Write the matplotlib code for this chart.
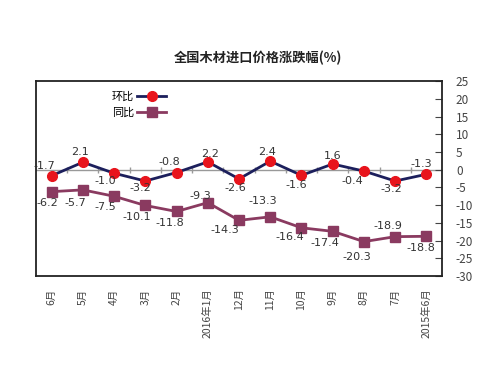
import matplotlib
matplotlib.use("Agg")
import matplotlib.pyplot as plt

plt.rcParams['font.family'] = ['Noto Sans CJK SC', 'DejaVu Sans']

title = "全国木材进口价格涨跌幅(%)"
months = ["2015年6月", "7月", "8月", "9月", "10月", "11月", "12月",
          "2016年1月", "2月", "3月", "4月", "5月", "6月"]
mom = [-1.3, -3.2, -0.4, 1.6, -1.6, 2.4, -2.6, 2.2, -0.8, -3.2, -1.0, 2.1, -1.7]
yoy = [-18.8, -18.9, -20.3, -17.4, -16.4, -13.3, -14.3, -9.3, -11.8, -10.1, -7.5, -5.7, -6.2]
mom_name = "环比"
yoy_name = "同比"
yticks = [25, 20, 15, 10, 5, 0, -5, -10, -15, -20, -25, -30]

# label offsets in pixels (display space)
mom_off = [(-5, 10), (-4, -8), (-12, -10), (0, 8), (-5, -10), (-3, 9), (-4, -9),
           (2, 8), (-7, 11), (-5, -7), (-9, -8), (-3, 10), (-7, 10)]
yoy_off = [(-5, -12), (-7, 11), (-7, -15), (-8, -12), (-12, -9), (-7, 16), (-14, -10),
           (-7, 7), (-7, -12), (-9, -12), (-9, -11), (-8, -13), (-4, -11)]

fig = plt.figure(figsize=(5.0, 3.67), dpi=100)
ax = fig.add_axes([0.072, 0.248, 0.812, 0.531])
x = list(range(len(months)))

ax.axhline(0, color="#999999", lw=1.0, zorder=1)
ax.plot([i + 0.5 for i in x[:-1]], [0] * (len(x) - 1), ls="none", marker="|",
        ms=5, color="#999999", zorder=1)

ax.plot(x, mom, color="#1c1f5c", lw=2.0, marker="o", ms=7,
        mfc="#e8141c", mec="#e8141c", label=mom_name, zorder=3)
ax.plot(x, yoy, color="#8a3a60", lw=2.0, marker="s", ms=7,
        mfc="#8a3a60", mec="#8a3a60", label=yoy_name, zorder=3)

for xi, v, (dx, dy) in zip(x, mom, mom_off):
    ax.annotate(f"{v:.1f}", (xi, v), xytext=(dx, dy), textcoords="offset pixels",
                ha="center", va="center", fontsize=8, color="#333333",
                family="DejaVu Sans", annotation_clip=False)
for xi, v, (dx, dy) in zip(x, yoy, yoy_off):
    ax.annotate(f"{v:.1f}", (xi, v), xytext=(dx, dy), textcoords="offset pixels",
                ha="center", va="center", fontsize=8, color="#333333",
                family="DejaVu Sans", annotation_clip=False)

ax.set_xlim(len(months) - 0.5, -0.5)
ax.set_ylim(-30, 25)
ax.yaxis.tick_right()
ax.set_yticks(yticks)
ax.set_yticklabels([str(t) for t in yticks])
ax.tick_params(axis="y", direction="in", length=5, pad=10, labelsize=8.5,
               labelcolor="#444444", color="#444444")
ax.set_xticks(x)
ax.set_xticklabels(months, rotation=90, fontsize=7.5, color="#444444")
ax.tick_params(axis="x", length=0, pad=9)
for s in ax.spines.values():
    s.set_linewidth(1.3)
    s.set_color("#222222")

fig.text(0.515, 1 - 58 / 367, title, ha="center", va="center", fontsize=9.5,
         fontweight="bold", color="#222222")

ax.legend(loc="upper left", bbox_to_anchor=(104 / 500, 1 - 84 / 367),
          bbox_transform=fig.transFigure, frameon=False, markerfirst=False,
          fontsize=8, handlelength=2.6, labelspacing=0.5, borderpad=0.2,
          handletextpad=0.3)

fig.savefig("out.png", dpi=100, facecolor="white")
